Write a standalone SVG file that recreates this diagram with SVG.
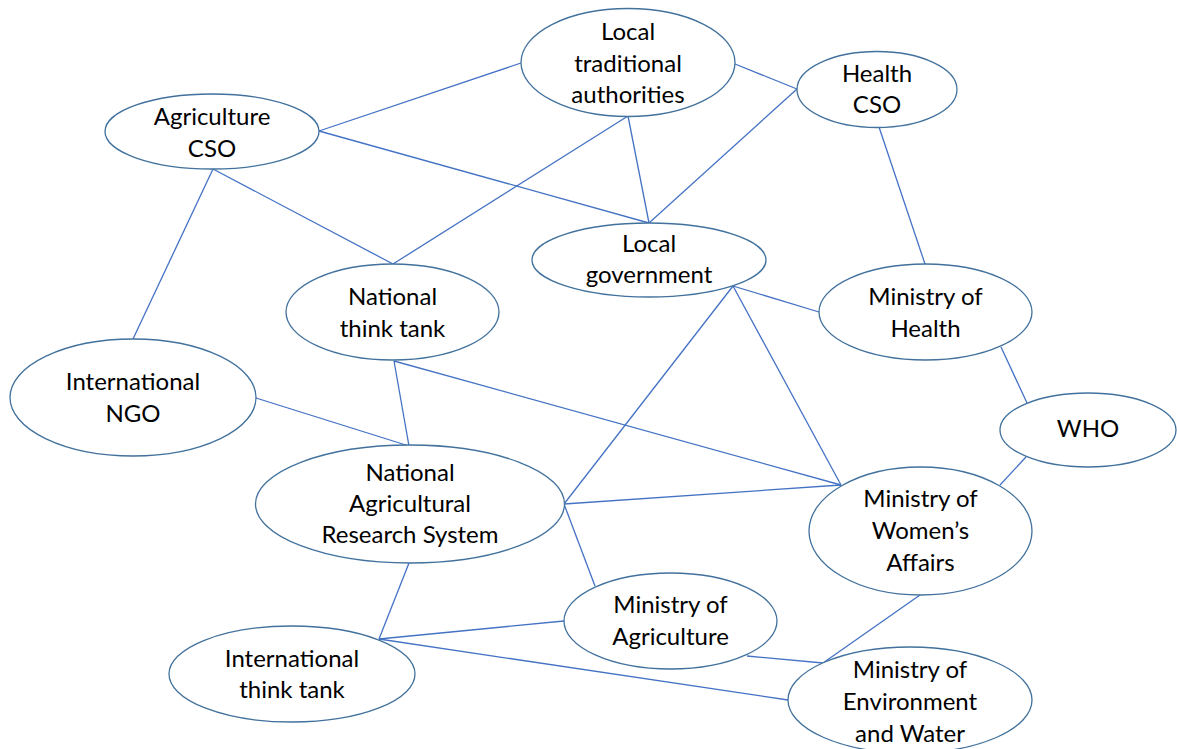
<svg xmlns="http://www.w3.org/2000/svg" width="1177" height="749" viewBox="0 0 1177 749">
  <style>
    .node ellipse { fill: #ffffff; stroke: #41719c; stroke-width: 1.3; }
    .node text { font-family: "Lato", "Liberation Sans", sans-serif; font-size: 24px; fill: #000000; text-anchor: middle; }
    #connectors line { stroke: #4472c4; stroke-width: 1.3; fill: none; }
  </style>
  <rect width="1177" height="749" fill="#ffffff"/>

  <!-- connectors drawn first so the ellipses sit on top -->
  <g id="connectors">
    <line x1="521" y1="63" x2="319" y2="131"/>
    <line x1="319" y1="131" x2="649" y2="223"/>
    <line x1="735" y1="64" x2="797" y2="89"/>
    <line x1="797" y1="89" x2="649" y2="223"/>
    <line x1="628" y1="116" x2="649" y2="223"/>
    <line x1="628" y1="116" x2="393" y2="264"/>
    <line x1="879" y1="127" x2="925" y2="264"/>
    <line x1="1001" y1="347" x2="1027" y2="403"/>
    <line x1="1026" y1="457" x2="1000" y2="485"/>
    <line x1="733" y1="286" x2="819" y2="312"/>
    <line x1="733" y1="286" x2="841" y2="485"/>
    <line x1="733" y1="286" x2="564" y2="504"/>
    <line x1="564" y1="504" x2="841" y2="485"/>
    <line x1="564" y1="504" x2="595" y2="586"/>
    <line x1="394" y1="361" x2="409" y2="446"/>
    <line x1="394" y1="361" x2="841" y2="485"/>
    <line x1="256" y1="398" x2="409" y2="446"/>
    <line x1="213" y1="169" x2="133" y2="339"/>
    <line x1="213" y1="169" x2="393" y2="264"/>
    <line x1="409" y1="563" x2="379" y2="639"/>
    <line x1="379" y1="639" x2="564" y2="621"/>
    <line x1="379" y1="639" x2="788" y2="700"/>
    <line x1="747" y1="656" x2="823" y2="663"/>
    <line x1="920" y1="595" x2="823" y2="663"/>
  </g>

  <g id="local-traditional-authorities" class="node">
    <ellipse cx="628" cy="62.5" rx="107" ry="54"/>
    <text x="628" y="40">Local</text>
    <text x="628" y="72">traditional</text>
    <text x="628" y="103">authorities</text>
  </g>

  <g id="health-cso" class="node">
    <ellipse cx="877" cy="89.5" rx="80" ry="38"/>
    <text x="877" y="82">Health</text>
    <text x="877" y="113">CSO</text>
  </g>

  <g id="agriculture-cso" class="node">
    <ellipse cx="212" cy="131.5" rx="107" ry="37.5"/>
    <text x="212" y="125">Agriculture</text>
    <text x="212" y="157">CSO</text>
  </g>

  <g id="local-government" class="node">
    <ellipse cx="649" cy="260" rx="117" ry="37"/>
    <text x="649" y="252">Local</text>
    <text x="649" y="283">government</text>
  </g>

  <g id="national-think-tank" class="node">
    <ellipse cx="392.5" cy="312" rx="106.5" ry="48"/>
    <text x="392.5" y="305">National</text>
    <text x="392.5" y="337">think tank</text>
  </g>

  <g id="ministry-of-health" class="node">
    <ellipse cx="925.5" cy="312" rx="106.5" ry="48"/>
    <text x="925.5" y="305">Ministry of</text>
    <text x="925.5" y="337">Health</text>
  </g>

  <g id="international-ngo" class="node">
    <ellipse cx="133" cy="397.5" rx="123" ry="58.5"/>
    <text x="133" y="390">International</text>
    <text x="133" y="422">NGO</text>
  </g>

  <g id="who" class="node">
    <ellipse cx="1088" cy="430" rx="88" ry="37"/>
    <text x="1088" y="437">WHO</text>
  </g>

  <g id="national-agricultural-research-system" class="node">
    <ellipse cx="410" cy="504" rx="154.5" ry="59"/>
    <text x="410" y="481">National</text>
    <text x="410" y="512">Agricultural</text>
    <text x="410" y="543">Research System</text>
  </g>

  <g id="ministry-of-womens-affairs" class="node">
    <ellipse cx="920.5" cy="531" rx="111.5" ry="64"/>
    <text x="920.5" y="507">Ministry of</text>
    <text x="920.5" y="539">Women’s</text>
    <text x="920.5" y="571">Affairs</text>
  </g>

  <g id="ministry-of-agriculture" class="node">
    <ellipse cx="670.5" cy="621" rx="106.5" ry="48"/>
    <text x="670.5" y="613">Ministry of</text>
    <text x="670.5" y="645">Agriculture</text>
  </g>

  <g id="international-think-tank" class="node">
    <ellipse cx="292" cy="674" rx="123" ry="48"/>
    <text x="292" y="667">International</text>
    <text x="292" y="698">think tank</text>
  </g>

  <g id="ministry-of-environment-and-water" class="node">
    <ellipse cx="910" cy="700" rx="122" ry="53"/>
    <text x="910" y="678">Ministry of</text>
    <text x="910" y="710">Environment</text>
    <text x="910" y="742">and Water</text>
  </g>
</svg>
